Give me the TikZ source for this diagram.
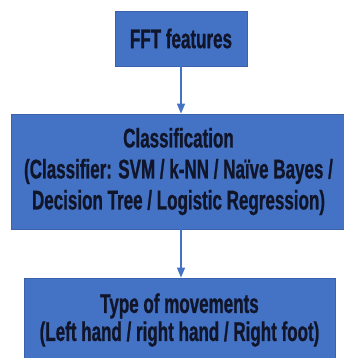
\documentclass[tikz,border=0pt]{standalone}
\usepackage{fontspec}
\setmainfont{Liberation Sans}[FakeStretch=0.63,BoldFeatures={FakeBold=0.8}]
\usetikzlibrary{arrows.meta}
\definecolor{boxblue}{HTML}{4472C4}
\definecolor{boxedge}{HTML}{3A62AD}
\definecolor{txt}{HTML}{10152A}
\begin{document}
\begin{tikzpicture}[x=1pt,y=1pt,
  box/.style={draw=boxedge, line width=0.8pt, fill=boxblue, text=txt, align=center,
     font=\fontsize{27}{31}\selectfont\bfseries, inner sep=0pt},
  conn/.style={draw=boxblue, line width=1.4pt, -{Triangle[length=10pt,width=8pt]}}]
\useasboundingbox[fill=white] (0,0) rectangle (344,-358);
\node[box, minimum width=132pt, minimum height=55pt] (b1) at (181,-38.5) {FFT features};
\node[box, minimum width=335pt, minimum height=115pt] (b2) at (178.5,-171.5)
  {Classification\\(Classifier: SVM / k-NN / Naïve Bayes /\\Decision Tree / Logistic Regression)};
\node[box, minimum width=311pt, minimum height=84pt, font=\fontsize{27}{28}\selectfont\bfseries] (b3) at (179.5,-320)
  {Type of movements\\(Left hand / right hand / Right foot)};
\draw[conn] (b1.south) -- (b1.south |- b2.north);
\draw[conn] (b2.south -| b1.south) -- (b1.south |- b3.north);
\end{tikzpicture}
\end{document}
